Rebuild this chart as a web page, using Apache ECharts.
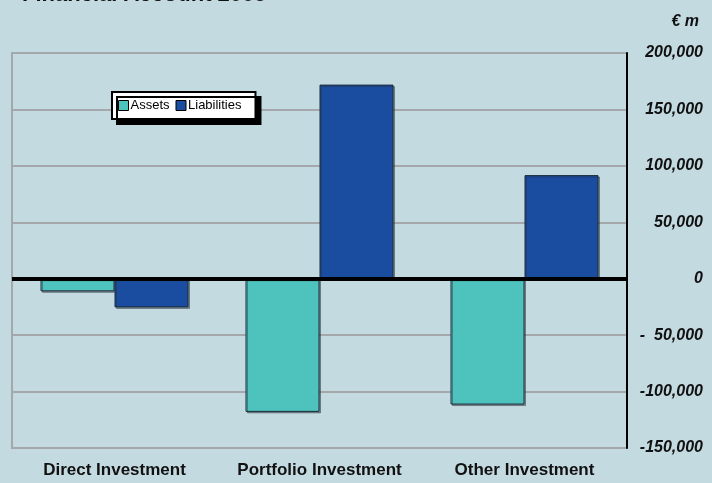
<!DOCTYPE html>
<html>
<head>
<meta charset="utf-8">
<script src="https://cdn.jsdelivr.net/npm/echarts@6/dist/echarts.min.js"></script>
<style>
html,body{margin:0;padding:0;background:#C4DAE1;}
#c{width:712px;height:483px;}
</style>
</head>
<body>
<div id="c"></div>
<script>
var categories = ['Direct Investment', 'Portfolio Investment', 'Other Investment'];
var assets = [-11200, -118000, -111500];
var liabilities = [-25400, 172000, 91800];
var yTicks = [-150000, -100000, -50000, 0, 50000, 100000, 150000, 200000];
var titleText = 'Financial Account 2005';
var unitText = '€ m';

function fmt(v) {
  if (v === 0) return '0';
  if (v === -50000) return '-  50,000';
  return (v < 0 ? '-' : '') + Math.abs(v).toString().replace(/\B(?=(\d{3})+(?!\d))/g, ',');
}

var chart = echarts.init(document.getElementById('c'));
var font = 'Liberation Sans, Arial, sans-serif';
chart.setOption({
  backgroundColor: '#C4DAE1',
  animation: false,
  title: {
    text: titleText,
    left: 17,
    top: -21,
    textStyle: {fontFamily: font, fontSize: 22, fontWeight: 'bold', color: '#111'}
  },
  graphic: [{
    type: 'text',
    right: 13,
    top: 14,
    style: {text: unitText, font: 'italic bold 16px Liberation Sans, Arial, sans-serif', fill: '#111'}
  }],
  legend: {
    data: ['Assets', 'Liabilities'],
    left: 112,
    top: 92,
    orient: 'horizontal',
    backgroundColor: '#fff',
    borderColor: '#000',
    borderWidth: 2,
    borderRadius: 0,
    shadowColor: '#000',
    shadowOffsetX: 5,
    shadowOffsetY: 5,
    shadowBlur: 0,
    padding: [7, 14, 7, 6],
    itemWidth: 10,
    itemHeight: 10,
    itemGap: 6,
    icon: 'rect',
    itemStyle: {borderColor: '#000', borderWidth: 1},
    textStyle: {fontFamily: font, fontSize: 13, color: '#000', padding: [0, 0, 0, -3]}
  },
  grid: {
    left: 12, right: 85, top: 53, bottom: 35,
    show: true,
    borderColor: '#A5A8AA',
    borderWidth: 2,
    backgroundColor: 'transparent'
  },
  xAxis: {
    type: 'category',
    data: categories,
    axisLine: {show: false},
    axisTick: {show: false},
    axisLabel: {interval: 0, margin: 14, fontFamily: font, fontSize: 17, fontWeight: 'bold', color: '#111'}
  },
  yAxis: {
    type: 'value',
    position: 'right',
    min: -150000,
    max: 200000,
    interval: 50000,
    axisLine: {show: true, lineStyle: {color: '#000', width: 2}},
    axisTick: {show: false},
    splitLine: {show: true, lineStyle: {color: '#A5A8AA', width: 2}},
    axisLabel: {
      margin: 76,
      align: 'right',
      fontFamily: font,
      fontSize: 16,
      fontWeight: 'bold',
      fontStyle: 'italic',
      color: '#111',
      formatter: fmt
    }
  },
  series: [{
    name: 'Assets',
    type: 'bar',
    data: assets,
    barWidth: 74,
    barGap: '0%',
    itemStyle: {color: '#4EC3BE', borderColor: '#1C2B3A', borderWidth: 1,
      shadowColor: 'rgba(40,50,60,0.45)', shadowOffsetX: 1.5, shadowOffsetY: 1.5, shadowBlur: 0},
    markLine: {
      silent: true,
      symbol: 'none',
      label: {show: false},
      lineStyle: {color: '#000', width: 4, type: 'solid'},
      data: [{yAxis: 0}],
      z: 10
    }
  }, {
    name: 'Liabilities',
    type: 'bar',
    data: liabilities,
    barWidth: 74,
    barGap: '0%',
    itemStyle: {color: '#1A4DA0', borderColor: '#1C2B3A', borderWidth: 1,
      shadowColor: 'rgba(40,50,60,0.45)', shadowOffsetX: 1.5, shadowOffsetY: 1.5, shadowBlur: 0}
  }]
});
</script>
</body>
</html>
